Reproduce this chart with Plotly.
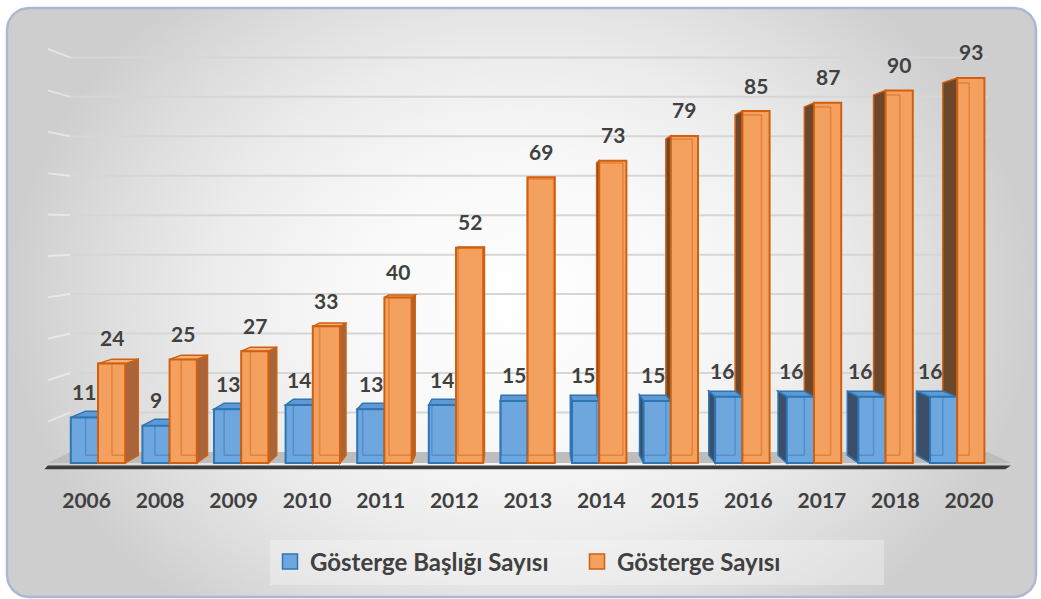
import numpy as np
import plotly.graph_objects as go

# ---- data -------------------------------------------------------------
years = ["2006", "2008", "2009", "2010", "2011", "2012", "2013",
         "2014", "2015", "2016", "2017", "2018", "2020"]
baslik_sayisi = [11, 9, 13, 14, 13, 14, 15, 15, 15, 16, 16, 16, 16]
gosterge_sayisi = [24, 25, 27, 33, 40, 52, 69, 73, 79, 85, 87, 90, 93]
series_names = ["Gösterge Başlığı Sayısı", "Gösterge Sayısı"]
grid_values = list(range(0, 101, 10))

# ---- page / plot geometry ----------------------------------------------
W, H = 1041, 599
PLOT_LEFT, PLOT_RIGHT = 44.3, 1010.9      # px
PLOT_TOP, PLOT_BOTTOM = 40.7, 475.4       # px
X_RANGE = [-0.75, 12.75]
Y_RANGE = [-3, 102]

BAR_W = 0.38
VP_X, VP_Y = 5.91, 56.8      # vanishing point (data units)
BOX_DEPTH = 0.033            # bar depth, as a fraction towards the vanishing point
WALL_DEPTH = 0.047           # depth of back wall / floor
LABEL_SPREAD = 1.027         # category labels sit on the nearer floor edge

FONT = dict(family="Lato", size=21, color="#404040", weight="bold")
LEGEND_FONT = dict(family="Lato", size=24, color="#404040", weight="bold")

STYLE = [
    dict(front="#6ea7dd", line="#2e75b6", top="#5e99d4",
         right="#4a77a6", left="#3b4f69", edge="rgba(46,117,182,0.45)"),
    dict(front="#f4a05e", line="#d0600f", top="#f6b27d",
         right="#a8653b", left="#6b472c", edge="rgba(208,96,15,0.45)"),
]


def back(x, y, k=BOX_DEPTH):
    return x + (VP_X - x) * k, y + (VP_Y - y) * k


def path(points):
    return "M " + " L ".join(f"{x:.4f},{y:.4f}" for x, y in points) + " Z"


def rounded_rect(x0, y0, x1, y1, r, n=12, spike=None):
    """Rounded rectangle in pixel coordinates (y downwards).
    `spike` adds zero-area excursions that widen the gradient's bounding box."""
    pts = []

    def arc(cx, cy, a0, a1):
        for a in np.linspace(a0, a1, n):
            pts.append((cx + r * np.cos(a), cy + r * np.sin(a)))

    cx = (x0 + x1) / 2
    arc(x0 + r, y0 + r, np.pi, 1.5 * np.pi)
    if spike:
        pts += [(cx, y0), (cx, spike[0]), (cx, y0)]
    arc(x1 - r, y0 + r, 1.5 * np.pi, 2 * np.pi)
    arc(x1 - r, y1 - r, 0, 0.5 * np.pi)
    if spike:
        pts += [(cx, y1), (cx, spike[1]), (cx, y1)]
    arc(x0 + r, y1 - r, 0.5 * np.pi, np.pi)
    pts.append(pts[0])
    return [p[0] for p in pts], [p[1] for p in pts]


fig = go.Figure()

# ---- card background with radial shading ------------------------------------
gx, gy = rounded_rect(7, 8, 1036, 597, 22, spike=(-110, 710))
fig.add_trace(go.Scatter(
    x=gx, y=gy, mode="lines", fill="toself",
    line=dict(width=0, simplify=False),
    fillgradient=dict(type="radial", colorscale=[
        [0, "#ffffff"], [0.35, "#f8f8f8"], [0.6, "#ececec"],
        [0.8, "#dedede"], [1, "#cecece"]]),
    hoverinfo="skip", showlegend=False, xaxis="x", yaxis="y"))
bx, by = rounded_rect(7, 8, 1036, 597, 22)
fig.add_trace(go.Scatter(
    x=bx, y=by, mode="lines", line=dict(color="#aab9cf", width=2.5),
    hoverinfo="skip", showlegend=False, xaxis="x", yaxis="y"))

# ---- walls, floor and gridlines ----------------------------------------------
shapes = []
floor_l, floor_r = -0.70, 12.75
bl_x, _ = back(floor_l, 0, WALL_DEPTH)
br_x, _ = back(floor_r, 0, WALL_DEPTH)
for g in grid_values[1:]:
    _, gb = back(0, g, WALL_DEPTH)
    shapes.append(dict(type="line", xref="x2", yref="y2", layer="between",
                       x0=floor_l, y0=g, x1=bl_x, y1=gb,
                       line=dict(color="rgba(255,255,255,0.45)", width=2)))
    shapes.append(dict(type="line", xref="x2", yref="y2", layer="between",
                       x0=bl_x, y0=gb, x1=br_x, y1=gb,
                       line=dict(color="#d6d6d6", width=2)))

_, floor_back = back(0, 0, WALL_DEPTH)
shapes.append(dict(type="path", xref="x2", yref="y2", layer="between",
                   path=path([(floor_l, 0), (floor_r, 0),
                              (br_x, floor_back), (bl_x, floor_back)]),
                   fillcolor="#bdbdbd", line=dict(width=0)))
shapes.append(dict(type="path", xref="x2", yref="y2", layer="between",
                   path=path([(floor_l - 0.05, -1.5), (floor_r - 0.08, -1.5),
                              (floor_r, -0.6), (floor_l, -0.6)]),
                   fillcolor="#3c3c3c", line=dict(width=0)))

# ---- 3D faces of the bars ---------------------------------------------------
series = [baslik_sayisi, gosterge_sayisi]
offsets = [-BAR_W, 0.0]
side_faces, top_faces, hidden_edges = [], [], []
for s, values in enumerate(series):
    st = STYLE[s]
    for i, v in enumerate(values):
        x0 = i + offsets[s]
        x1 = x0 + BAR_W
        bx0, bv = back(x0, v)
        bx1, _ = back(x1, v)
        _, b0 = back(x0, 0)
        if x1 < VP_X:
            side_faces.append(dict(
                type="path", xref="x2", yref="y2", layer="between",
                path=path([(x1, 0), (x1, v), (bx1, bv), (bx1, b0)]),
                fillcolor=st["right"], line=dict(color=st["line"], width=1.5)))
        elif x0 > VP_X:
            side_faces.append(dict(
                type="path", xref="x2", yref="y2", layer="between",
                path=path([(x0, 0), (x0, v), (bx0, bv), (bx0, b0)]),
                fillcolor=st["left"], line=dict(color=st["line"], width=1.5)))
        if bv > v:
            top_faces.append(dict(
                type="path", xref="x2", yref="y2", layer="between",
                path=path([(x0, v), (x1, v), (bx1, bv), (bx0, bv)]),
                fillcolor=st["top"], line=dict(color=st["line"], width=1.5)))
        # back edges seen through the front face
        ex0, ex1 = max(x0, bx0), min(x1, bx1)
        hidden_edges.append(dict(type="line", xref="x2", yref="y2", layer="above",
                                 x0=ex0, y0=b0, x1=ex1, y1=b0,
                                 line=dict(color=st["edge"], width=1.5)))
        for ex in (bx0, bx1):
            if x0 < ex < x1:
                hidden_edges.append(dict(
                    type="line", xref="x2", yref="y2", layer="above",
                    x0=ex, y0=b0, x1=ex, y1=min(v, bv),
                    line=dict(color=st["edge"], width=1.5)))
        if bv < v:
            hidden_edges.append(dict(type="line", xref="x2", yref="y2", layer="above",
                                     x0=ex0, y0=bv, x1=ex1, y1=bv,
                                     line=dict(color=st["edge"], width=1.5)))
shapes += side_faces + top_faces + hidden_edges

# ---- bars (front faces) ------------------------------------------------------
idx = list(range(len(years)))
for s, values in enumerate(series):
    st = STYLE[s]
    fig.add_trace(go.Bar(
        x=idx, y=values, name=series_names[s],
        width=BAR_W, offset=offsets[s],
        marker=dict(color=st["front"], line=dict(color=st["line"], width=2)),
        xaxis="x2", yaxis="y2", hoverinfo="skip", showlegend=False))

# legend keys (square swatches)
for s in range(len(series)):
    st = STYLE[s]
    fig.add_trace(go.Scatter(
        x=[None], y=[None], mode="markers", name=series_names[s],
        marker=dict(symbol="square", size=15, color=st["front"],
                    line=dict(color=st["line"], width=1.5)),
        xaxis="x2", yaxis="y2", hoverinfo="skip"))

# ---- value labels --------------------------------------------------------------
annotations = []
for s, values in enumerate(series):
    for i, v in enumerate(values):
        c = i + offsets[s] + BAR_W / 2
        x0 = i + offsets[s]
        if s == 0 and x0 > VP_X:
            # short bars beside a visible side face: centre on the box depth
            c = c + (VP_X - c) * BOX_DEPTH
        annotations.append(dict(
            x=c, y=v, xref="x2", yref="y2",
            text=str(v), showarrow=False, yanchor="middle", yshift=26,
            font=FONT))

tick_pos = [VP_X + (i - VP_X) * LABEL_SPREAD for i in idx]

fig.update_layout(
    width=W, height=H,
    margin=dict(l=0, r=0, t=0, b=0),
    paper_bgcolor="white",
    plot_bgcolor="rgba(0,0,0,0)",
    barmode="overlay",
    showlegend=True,
    xaxis=dict(domain=[0, 1], range=[0, W], visible=False, fixedrange=True),
    yaxis=dict(domain=[0, 1], range=[H, 0], visible=False, fixedrange=True),
    xaxis2=dict(domain=[PLOT_LEFT / W, PLOT_RIGHT / W], range=X_RANGE,
                anchor="y2", showgrid=False, zeroline=False, showline=False,
                tickmode="array", tickvals=tick_pos, ticktext=years,
                ticks="", tickfont=FONT, ticklabelstandoff=11),
    yaxis2=dict(domain=[(H - PLOT_BOTTOM) / H, (H - PLOT_TOP) / H], range=Y_RANGE,
                anchor="x2", showgrid=False, zeroline=False, showline=False,
                showticklabels=False, ticks=""),
    legend=dict(orientation="h", x=270 / W, xanchor="left", y=(H - 562) / H,
                yanchor="middle", font=LEGEND_FONT, bgcolor="rgba(248,248,248,0.35)",
                itemwidth=30, traceorder="normal",
                entrywidth=262, entrywidthmode="pixels"),
    shapes=shapes,
    annotations=annotations,
)

fig.write_html("out.html")
